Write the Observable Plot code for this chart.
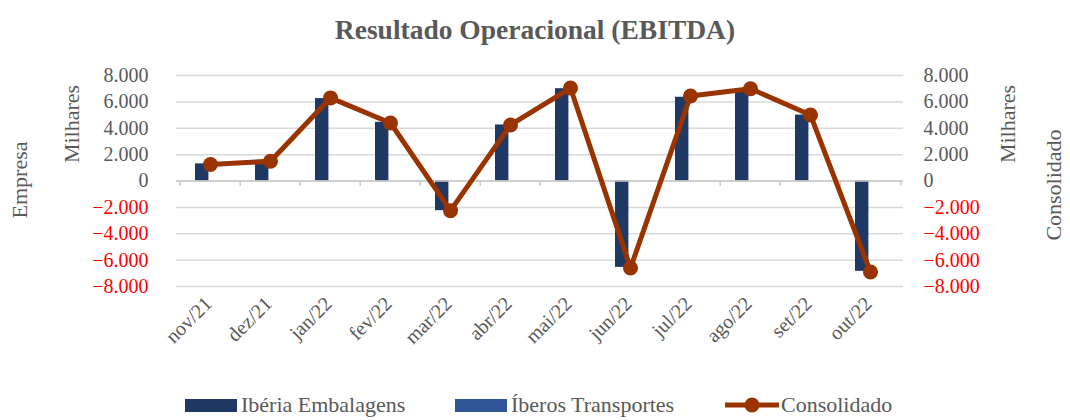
<!DOCTYPE html>
<html><head><meta charset="utf-8">
<script src="https://cdn.jsdelivr.net/npm/d3@7"></script>
<script src="https://cdn.jsdelivr.net/npm/@observablehq/plot@0.6"></script>
<style>
body{margin:0;background:#fff;font-family:"Liberation Serif",serif;}
#wrap{position:relative;width:1070px;height:420px;overflow:hidden;}
#title{height:60px;line-height:60px;text-align:center;font-weight:bold;font-size:27.5px;color:#595959;}
.vlab{position:absolute;font-size:22px;line-height:24px;color:#595959;transform:translate(-50%,-50%) rotate(-90deg);white-space:nowrap;}
.leg{position:absolute;top:393px;height:24px;display:flex;align-items:center;font-size:22px;color:#595959;white-space:nowrap;}
.sw{width:52px;height:13px;margin-right:4px;}
</style></head>
<body><div id="wrap">
<div id="title">Resultado Operacional (EBITDA)</div>
<div id="chart"></div>
<div class="vlab" style="left:20px;top:180px">Empresa</div>
<div class="vlab" style="left:72px;top:124px">Milhares</div>
<div class="vlab" style="left:1008px;top:124px">Milhares</div>
<div class="vlab" style="left:1054px;top:185px">Consolidado</div>
<div id="legend"></div>
</div>
<script>
const months = ["nov/21","dez/21","jan/22","fev/22","mar/22","abr/22","mai/22","jun/22","jul/22","ago/22","set/22","out/22"];
const iberia = [1300,1400,6250,4450,-2250,4250,7000,-6550,6350,6750,5000,-6850];
const iberos = [0,0,0,0,0,0,0,0,0,0,0,0];
const consolidado = [1250,1500,6300,4400,-2250,4250,7050,-6600,6450,7000,5000,-6900];
const yTicks = [-8000,-6000,-4000,-2000,0,2000,4000,6000,8000];
const seriesNames = ["Ibéria Embalagens","Íberos Transportes","Consolidado"];
const colors = ["#203864","#2f5597","#993300"];

const loc = d3.formatLocale({decimal:",", thousands:".", grouping:[3], currency:["€",""]});
const fmt = loc.format(",.0f");
const data = months.map((m,i)=>({month:m, iberia:iberia[i], iberos:iberos[i], cons:consolidado[i]}));
const pos = yTicks.filter(t=>t>=0), neg = yTicks.filter(t=>t<0);
const W=1070, ML=176, MR=167;
const bw = (W-ML-MR)/months.length;
const ax = {tickSize:0, tickFormat:fmt, label:null, fontSize:20};
const chart = Plot.plot({
  width:W, height:330, marginTop:15, marginBottom:104, marginLeft:ML, marginRight:MR,
  style:{fontFamily:"'Liberation Serif', serif", fontSize:"20px", background:"transparent", overflow:"visible", color:"#595959"},
  x:{domain:months, padding:0, label:null},
  y:{domain:[-8000,8000], label:null},
  marks:[
    Plot.ruleY(yTicks,{stroke:"#d9d9d9", strokeWidth:1.5}),
    Plot.barY(data,{x:"month", y:"iberia", fill:colors[0], insetLeft:15, insetRight:bw-29}),
    Plot.barY(data,{x:"month", y:"iberos", fill:colors[1], insetLeft:31, insetRight:bw-45}),
    Plot.ruleY([0],{stroke:"#c8c8c8", strokeWidth:1.5}),
    Plot.ruleX(months,{x:d=>d, y1:0, y2:-400, dx:-bw/2, stroke:"#c8c8c8", strokeWidth:1.5}),
    Plot.ruleX([months[months.length-1]],{x:d=>d, y1:0, y2:-400, dx:bw/2, stroke:"#c8c8c8", strokeWidth:1.5}),
    Plot.lineY(data,{x:"month", y:"cons", stroke:colors[2], strokeWidth:5}),
    Plot.dot(data,{x:"month", y:"cons", r:7.5, fill:colors[2]}),
    Plot.axisY(pos,{...ax, anchor:"left", tickPadding:28, fill:"#595959"}),
    Plot.axisY(neg,{...ax, anchor:"left", tickPadding:28, fill:"#ff0000"}),
    Plot.axisY(pos,{...ax, anchor:"right", tickPadding:20, fill:"#595959"}),
    Plot.axisY(neg,{...ax, anchor:"right", tickPadding:20, fill:"#ff0000"}),
    Plot.axisX({tickSize:0, tickRotate:-45, tickPadding:14, dx:-2, fill:"#595959", label:null, fontSize:20})
  ]
});
document.getElementById("chart").appendChild(chart);

const lefts = [185,455,725];
const leg = document.getElementById("legend");
seriesNames.forEach((n,i)=>{
  const d = document.createElement("div");
  d.className="leg"; d.style.left=lefts[i]+"px";
  if(i<2){
    d.innerHTML = `<div class="sw" style="background:${colors[i]}"></div><span>${n}</span>`;
  } else {
    d.innerHTML = `<svg width="54" height="20" style="margin-right:2px"><line x1="0" x2="54" y1="10" y2="10" stroke="${colors[2]}" stroke-width="5"/><circle cx="27" cy="10" r="7.5" fill="${colors[2]}"/></svg><span>${n}</span>`;
  }
  leg.appendChild(d);
});
</script>
</body></html>
